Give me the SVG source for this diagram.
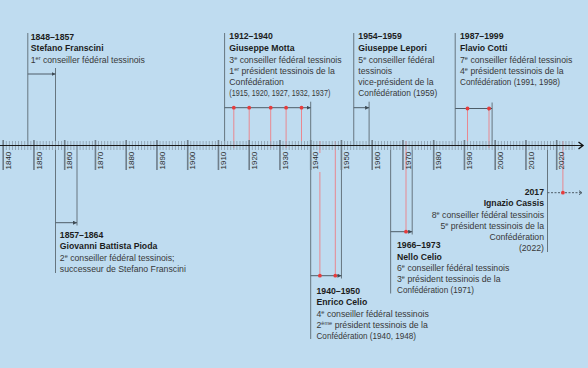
<svg xmlns="http://www.w3.org/2000/svg" width="588" height="368" viewBox="0 0 588 368">
<defs>
<style>
.t{font-family:"Liberation Sans",Arial,sans-serif;font-size:8.7px;fill:#383838}
.b{font-weight:bold;fill:#1c1c1c}
.e{text-anchor:end}
.yl{font-family:"Liberation Sans",Arial,sans-serif;font-size:8px;fill:#2a2a2a}
.bar{stroke:#66757f;stroke-width:1;fill:none}
.arr{stroke:#4e5d68;stroke-width:1;fill:none;marker-end:url(#ah)}
.red{stroke:#e98890;stroke-width:1;fill:none}
.dot{fill:#e63c3c}
.sup{font-size:5.6px}
</style>
<marker id="ah" markerUnits="userSpaceOnUse" markerWidth="5" markerHeight="5" refX="4" refY="2" orient="auto"><path d="M0,0L4,2L0,4z" fill="#3e4b55"/></marker>
<marker id="chev" markerUnits="userSpaceOnUse" markerWidth="8" markerHeight="10" refX="6" refY="5" orient="auto"><path d="M1.5,1.5L6,5L1.5,8.5" fill="none" stroke="#111" stroke-width="1.4"/></marker>
<marker id="chev2" markerUnits="userSpaceOnUse" markerWidth="6" markerHeight="6" refX="4.5" refY="3" orient="auto"><path d="M1.5,1L4.5,3L1.5,5" fill="none" stroke="#4e5d68" stroke-width="1"/></marker>
</defs>
<rect width="588" height="368" fill="#bfdcf0"/>

<g id="presidencies" class="red">
<path d="M233.8,107.7V148M249.2,107.7V148M270.7,107.7V148M286.1,107.7V148M301.5,107.7V148"/>
<path d="M467.5,108.5V148M489,108.5V148"/>
<path d="M319.9,141V153M319.9,172V275.7M335.3,141V275.7"/>
<path d="M406,141V231.7"/>
<path d="M562.9,141V192.7"/>
</g>

<g id="connectors">
<path class="bar" d="M27.8,33V145.5M55.5,68V273M77,145.5V225.5M224.6,33V145.5M310.7,101.7V339M341.45,145.5V278.5M353.75,33V145.5M369.1,101.7V145.5M390.65,145.5V293.5M412.2,145.5V234.5M455.2,33V145.5M492.1,102.5V145.5M547.5,145.5V252"/>
<path class="arr" d="M27.8,74H55.5"/>
<path class="arr" d="M55.5,222.7H77"/>
<path class="arr" d="M224.6,107.7H310.7"/>
<path class="arr" d="M310.7,275.7H341.45"/>
<path class="arr" d="M353.75,107.7H369.1"/>
<path class="arr" d="M390.65,231.7H412.2"/>
<path class="arr" d="M455.2,108.5H492.1"/>
<path d="M547.5,192.7H582" fill="none" stroke="#4e5d68" stroke-width="1" stroke-dasharray="2 1.5" marker-end="url(#chev2)"/>
</g>

<g id="axis">
<line x1="2.75" y1="145.5" x2="575" y2="145.5" stroke="#8fa3b3" stroke-width="9" stroke-dasharray="0.9 2.175"/>
<path d="M3.2,140V170M33.95,140V170M64.7,140V170M95.45,140V170M126.2,140V170M156.95,140V170M187.7,140V170M218.45,140V170M249.2,140V170M279.95,140V170M310.7,140V170M341.45,140V170M372.2,140V170M402.95,140V170M433.7,140V170M464.45,140V170M495.2,140V170M525.95,140V170M556.7,140V170" stroke="#6f7e8a" stroke-width="1.6" fill="none"/>
<line x1="0" y1="145.5" x2="583" y2="145.5" stroke="#1a1a1a" stroke-width="1.2" marker-end="url(#chev)"/>
<g class="yl">
<text transform="translate(10.8,169.5) rotate(-90)">1840</text>
<text transform="translate(41.55,169.5) rotate(-90)">1850</text>
<text transform="translate(72.3,169.5) rotate(-90)">1860</text>
<text transform="translate(103.05,169.5) rotate(-90)">1870</text>
<text transform="translate(133.8,169.5) rotate(-90)">1880</text>
<text transform="translate(164.55,169.5) rotate(-90)">1890</text>
<text transform="translate(195.3,169.5) rotate(-90)">1900</text>
<text transform="translate(226.05,169.5) rotate(-90)">1910</text>
<text transform="translate(256.8,169.5) rotate(-90)">1920</text>
<text transform="translate(287.55,169.5) rotate(-90)">1930</text>
<text transform="translate(318.3,169.5) rotate(-90)">1940</text>
<text transform="translate(349.05,169.5) rotate(-90)">1950</text>
<text transform="translate(379.8,169.5) rotate(-90)">1960</text>
<text transform="translate(410.55,169.5) rotate(-90)">1970</text>
<text transform="translate(441.3,169.5) rotate(-90)">1980</text>
<text transform="translate(472.05,169.5) rotate(-90)">1990</text>
<text transform="translate(502.8,169.5) rotate(-90)">2000</text>
<text transform="translate(533.55,169.5) rotate(-90)">2010</text>
<text transform="translate(564.3,169.5) rotate(-90)">2020</text>
</g>
</g>

<g id="dots" class="dot">
<circle cx="233.8" cy="107.7" r="1.9"/><circle cx="249.2" cy="107.7" r="1.9"/><circle cx="270.7" cy="107.7" r="1.9"/><circle cx="286.1" cy="107.7" r="1.9"/><circle cx="301.5" cy="107.7" r="1.9"/>
<circle cx="467.5" cy="108.5" r="1.9"/><circle cx="489" cy="108.5" r="1.9"/>
<circle cx="319.9" cy="275.7" r="1.9"/><circle cx="335.3" cy="275.7" r="1.9"/>
<circle cx="406" cy="231.7" r="1.9"/>
<circle cx="562.9" cy="192.7" r="1.9"/>
</g>

<g id="franscini">
<text class="t b" x="30.7" y="39.5">1848–1857</text>
<text class="t b" x="30.7" y="51">Stefano Franscini</text>
<text class="t" x="30.7" y="62.8">1<tspan class="sup" dy="-3">er</tspan><tspan dy="3"> conseiller fédéral tessinois</tspan></text>
</g>

<g id="pioda">
<text class="t b" x="59.8" y="237.5">1857–1864</text>
<text class="t b" x="59.8" y="249.3">Giovanni Battista Pioda</text>
<text class="t" x="59.8" y="261">2<tspan class="sup" dy="-3">e</tspan><tspan dy="3"> conseiller fédéral tessinois;</tspan></text>
<text class="t" x="59.8" y="272">successeur de Stefano Franscini</text>
</g>

<g id="motta">
<text class="t b" x="229.3" y="39.3">1912–1940</text>
<text class="t b" x="229.3" y="50.8">Giuseppe Motta</text>
<text class="t" x="229.3" y="62.5">3<tspan class="sup" dy="-3">e</tspan><tspan dy="3"> conseiller fédéral tessinois</tspan></text>
<text class="t" x="229.3" y="73.5">1<tspan class="sup" dy="-3">er</tspan><tspan dy="3"> président tessinois de la</tspan></text>
<text class="t" x="229.3" y="84.5">Confédération</text>
<text class="t" x="229.3" y="95.5" textLength="101" lengthAdjust="spacingAndGlyphs">(1915, 1920, 1927, 1932, 1937)</text>
</g>

<g id="enrico-celio">
<text class="t b" x="316.5" y="293.8">1940–1950</text>
<text class="t b" x="316.5" y="305.2">Enrico Celio</text>
<text class="t" x="316.5" y="316.5">4<tspan class="sup" dy="-3">e</tspan><tspan dy="3"> conseiller fédéral tessinois</tspan></text>
<text class="t" x="316.5" y="327.5">2<tspan class="sup" dy="-3">ème</tspan><tspan dy="3"> président tessinois de la</tspan></text>
<text class="t" x="316.5" y="338.5" textLength="99.5" lengthAdjust="spacingAndGlyphs">Confédération (1940, 1948)</text>
</g>

<g id="lepori">
<text class="t b" x="358.3" y="39.3">1954–1959</text>
<text class="t b" x="358.3" y="50.8">Giuseppe Lepori</text>
<text class="t" x="358.3" y="62.5">5<tspan class="sup" dy="-3">e</tspan><tspan dy="3"> conseiller fédéral</tspan></text>
<text class="t" x="358.3" y="73.5">tessinois</text>
<text class="t" x="358.3" y="84.5">vice-président de la</text>
<text class="t" x="358.3" y="95.5" textLength="79" lengthAdjust="spacingAndGlyphs">Confédération (1959)</text>
</g>

<g id="nello-celio">
<text class="t b" x="397" y="248.3">1966–1973</text>
<text class="t b" x="397" y="259.7">Nello Celio</text>
<text class="t" x="397" y="271">6<tspan class="sup" dy="-3">e</tspan><tspan dy="3"> conseiller fédéral tessinois</tspan></text>
<text class="t" x="397" y="282">3<tspan class="sup" dy="-3">e</tspan><tspan dy="3"> président tessinois de la</tspan></text>
<text class="t" x="397" y="293" textLength="77" lengthAdjust="spacingAndGlyphs">Confédération (1971)</text>
</g>

<g id="cotti">
<text class="t b" x="460" y="39.3">1987–1999</text>
<text class="t b" x="460" y="50.8">Flavio Cotti</text>
<text class="t" x="460" y="62.5">7<tspan class="sup" dy="-3">e</tspan><tspan dy="3"> conseiller fédéral tessinois</tspan></text>
<text class="t" x="460" y="73.5">4<tspan class="sup" dy="-3">e</tspan><tspan dy="3"> président tessinois de la</tspan></text>
<text class="t" x="460" y="84.5" textLength="100" lengthAdjust="spacingAndGlyphs">Confédération (1991, 1998)</text>
</g>

<g id="cassis">
<text class="t b e" x="544" y="194.5">2017</text>
<text class="t b e" x="544" y="206">Ignazio Cassis</text>
<text class="t e" x="544" y="217.5">8<tspan class="sup" dy="-3">e</tspan><tspan dy="3"> conseiller fédéral tessinois</tspan></text>
<text class="t e" x="544" y="228.5">5<tspan class="sup" dy="-3">e</tspan><tspan dy="3"> président tessinois de la</tspan></text>
<text class="t e" x="544" y="239.5">Confédération</text>
<text class="t e" x="544" y="250.5">(2022)</text>
</g>
</svg>
